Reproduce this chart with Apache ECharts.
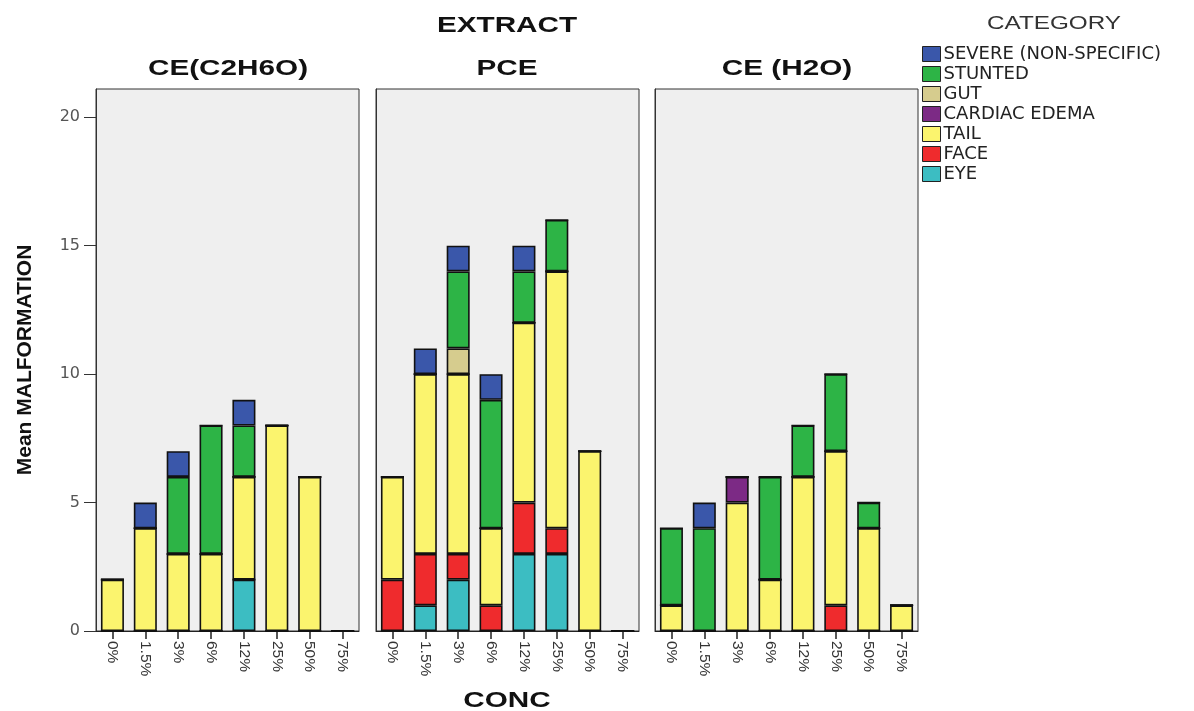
<!DOCTYPE html>
<html><head><meta charset="utf-8">
<script src="https://cdn.jsdelivr.net/npm/echarts@6/dist/echarts.min.js"></script>
<style>html,body{margin:0;padding:0;background:#fff}#c{width:1194px;height:711px}</style>
</head><body><div id="c"></div>
<script>
const concs = ['0%','1.5%','3%','6%','12%','25%','50%','75%'];
const extracts = ['CE(C2H6O)','PCE','CE (H2O)'];
const categories = ['EYE','FACE','TAIL','CARDIAC EDEMA','GUT','STUNTED','SEVERE (NON-SPECIFIC)'];
const colors = ['#3CBDC2','#EF2B2D','#FBF46E','#7C2A85','#D6CC8E','#2DB446','#3A57AA'];
// values per extract, per category (stack order bottom->top)
const eye      = [[0,0,0,0,2,0,0,0],[0,1,2,0,3,3,0,0],[0,0,0,0,0,0,0,0]];
const face     = [[0,0,0,0,0,0,0,0],[2,2,1,1,2,1,0,0],[0,0,0,0,0,1,0,0]];
const tail     = [[2,4,3,3,4,8,6,0],[4,7,7,3,7,10,7,0],[1,0,5,2,6,6,4,1]];
const cardiac  = [[0,0,0,0,0,0,0,0],[0,0,0,0,0,0,0,0],[0,0,1,0,0,0,0,0]];
const gut      = [[0,0,0,0,0,0,0,0],[0,0,1,0,0,0,0,0],[0,0,0,0,0,0,0,0]];
const stunted  = [[0,0,3,5,2,0,0,0],[0,0,3,5,2,2,0,0],[3,4,0,4,2,3,1,0]];
const severe   = [[0,1,1,0,1,0,0,0],[0,1,1,1,1,0,0,0],[0,1,0,0,0,0,0,0]];
const seriesData = [eye, face, tail, cardiac, gut, stunted, severe];
const yTicks = [0,5,10,15,20];

const FONT = '"Liberation Sans", Arial, sans-serif';
const lefts = [96, 376, 655];
const grids = lefts.map(l => ({left:l, width:263, top:89, bottom:80, show:true,
  backgroundColor:'#EFEFEF', borderColor:'#333', borderWidth:1, containLabel:false}));
const xAxes = extracts.map((e,i) => ({type:'category', gridIndex:i, data:concs,
  axisLine:{show:true, lineStyle:{color:'#222'}},
  axisTick:{show:true, alignWithLabel:true, length:8, lineStyle:{color:'#222', width:1.5}},
  axisLabel:{rotate:-90, color:'#333', fontSize:15.5, fontFamily:FONT, margin:10, interval:0}}));
const yAxes = extracts.map((e,i) => ({type:'value', gridIndex:i, min:0, max:21.1, interval:5,
  axisLine:{show:true, lineStyle:{color:'#333'}},
  axisTick:{show:i===0, length:12, customValues:yTicks, lineStyle:{color:'#333'}},
  axisLabel:{show:i===0, color:'#555', fontSize:16, fontFamily:'"DejaVu Sans", sans-serif', margin:16,
    customValues:yTicks},
  splitLine:{show:false},
  name: i===0 ? 'Mean MALFORMATION' : '', nameLocation:'middle', nameGap:60,
  nameTextStyle:{fontSize:21, fontWeight:'bold', color:'#111', fontFamily:FONT}}));
const series = [];
categories.forEach((c,ci) => {
  extracts.forEach((e,ei) => {
    series.push({name:c, type:'bar', stack:'s'+ei, xAxisIndex:ei, yAxisIndex:ei,
      data: seriesData[ci][ei], barWidth:'70%',
      itemStyle:{color:colors[ci], borderColor:'#111', borderWidth:1.6}});
  });
});
function wideText(txt, cx, cy, size, weight, color, sx){
  return {type:'text', x:cx, y:cy, scaleX:sx, silent:true,
    style:{text:txt, x:0, y:0, align:'center', verticalAlign:'middle',
      fontSize:size, fontWeight:weight, fontFamily:FONT, fill:color}};
}
const chart = echarts.init(document.getElementById('c'));
chart.setOption({
  animation:false,
  textStyle:{fontFamily:FONT},
  graphic:[
    wideText('EXTRACT', 507, 26, 22, 'bold', '#111', 1.35),
    wideText(extracts[0], 228, 69, 22, 'bold', '#111', 1.35),
    wideText(extracts[1], 507, 69, 22, 'bold', '#111', 1.35),
    wideText(extracts[2], 787, 69, 22, 'bold', '#111', 1.35),
    wideText('CONC', 507, 701, 22, 'bold', '#111', 1.35),
    wideText('CATEGORY', 1054, 24, 18, 'normal', '#333', 1.35)
  ],
  legend:{orient:'vertical', left:922, top:45, padding:0, itemGap:2, itemWidth:18, itemHeight:15,
    data: categories.slice().reverse(), icon:'rect',
    itemStyle:{borderColor:'#222', borderWidth:1},
    textStyle:{fontSize:18, color:'#222', fontFamily:'"DejaVu Sans", sans-serif', padding:[0,0,0,-2]}},
  grid:grids, xAxis:xAxes, yAxis:yAxes, series
});
</script></body></html>
